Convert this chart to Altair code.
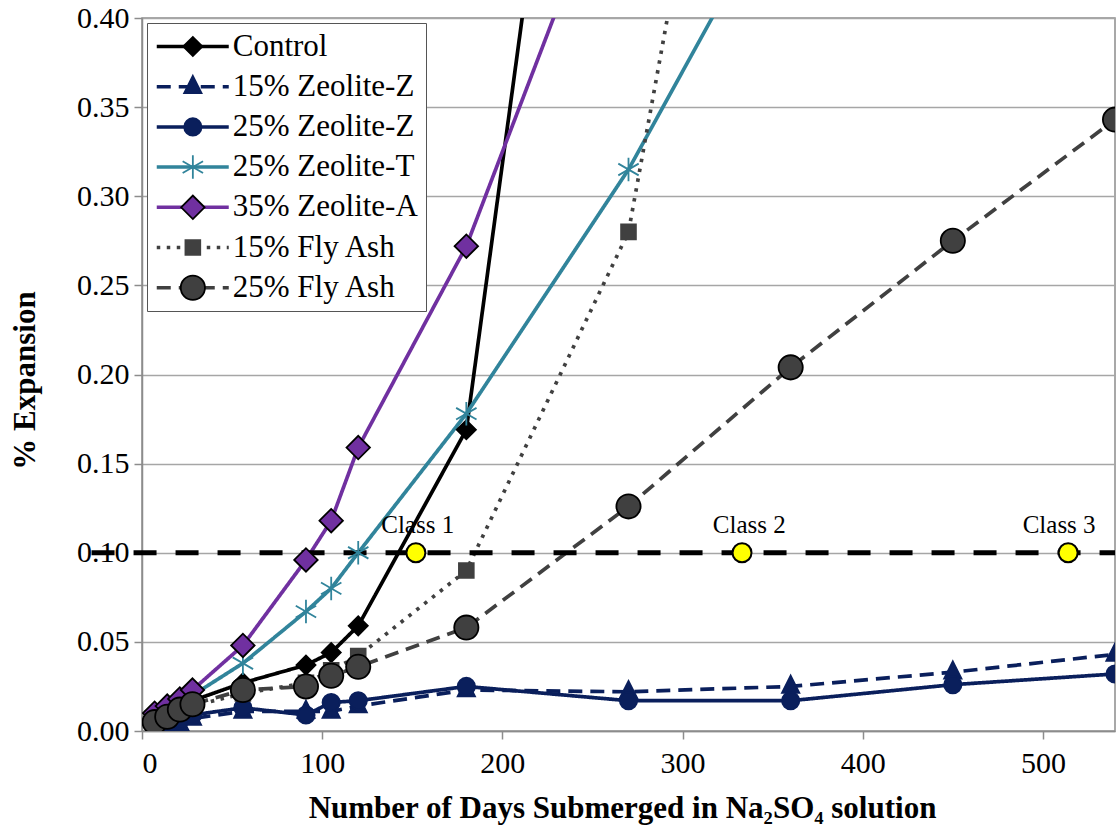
import altair as alt
import pandas as pd

# ---------------- data ----------------
series_order = ["Control", "15% Zeolite-Z", "25% Zeolite-Z", "25% Zeolite-T",
                "35% Zeolite-A", "15% Fly Ash", "25% Fly Ash"]

control_days = [7, 14, 21, 28, 56, 91, 105, 120, 180, 270]
control_vals = [0.006, 0.009, 0.013, 0.017, 0.027, 0.037, 0.044, 0.059, 0.169, 0.84]

z15_days = [7, 14, 21, 28, 56, 91, 105, 120, 180, 270, 360, 450, 540]
z15_vals = [0.000, 0.002, 0.004, 0.007, 0.011, 0.011, 0.011, 0.014, 0.023, 0.022, 0.025, 0.033, 0.043]

z25_days = [7, 14, 21, 28, 56, 91, 105, 120, 180, 270, 360, 450, 540]
z25_vals = [0.001, 0.004, 0.006, 0.009, 0.013, 0.009, 0.016, 0.017, 0.025, 0.017, 0.017, 0.026, 0.032]

t25_days = [7, 14, 21, 28, 56, 91, 105, 120, 180, 270, 360]
t25_vals = [0.008, 0.012, 0.016, 0.020, 0.038, 0.067, 0.080, 0.100, 0.178, 0.315, 0.48]

a35_days = [7, 14, 21, 28, 56, 91, 105, 120, 180, 270]
a35_vals = [0.010, 0.014, 0.018, 0.023, 0.048, 0.096, 0.118, 0.159, 0.272, 0.51]

fa15_days = [7, 14, 21, 28, 56, 91, 105, 120, 180, 270, 360]
fa15_vals = [0.005, 0.008, 0.011, 0.014, 0.021, 0.027, 0.034, 0.042, 0.090, 0.280, 0.78]

fa25_days = [7, 14, 21, 28, 56, 91, 105, 120, 180, 270, 360, 450, 540]
fa25_vals = [0.005, 0.008, 0.012, 0.015, 0.023, 0.025, 0.031, 0.036, 0.058, 0.126, 0.204, 0.275, 0.343]

class_days = [152, 333, 514]
class_vals = [0.10, 0.10, 0.10]
class_labels = ["Class 1", "Class 2", "Class 3"]
class_label_days = [153, 337, 509]

limit_days = [-28, 540]
limit_val = 0.10

x_ticks = [0, 100, 200, 300, 400, 500]
y_ticks = [0.0, 0.05, 0.10, 0.15, 0.20, 0.25, 0.30, 0.35, 0.40]

# ---------------- styles ----------------
NAVY = "#0A1F5C"
TEAL = "#31849B"
PURPLE = "#7030A0"
GRAY = "#404040"
line_colors = ["#000000", NAVY, NAVY, TEAL, PURPLE, GRAY, GRAY]
dashes = [[1, 0], [14, 8], [1, 0], [1, 0], [1, 0], [3.5, 6.5], [14, 8]]
fill_colors = ["#000000", NAVY, NAVY, TEAL, PURPLE, GRAY, GRAY]
stroke_colors = ["#000000", NAVY, NAVY, TEAL, "#000000", GRAY, "#000000"]
shapes = [
    "M-0.75,0L0,-0.75L0.75,0L0,0.75Z",
    "M0,-0.85L0.68,0.5L-0.68,0.5Z",
    "M-0.68,0A0.68,0.68 0 1,0 0.68,0A0.68,0.68 0 1,0 -0.68,0Z",
    "M0,-0.92L0,0.92M-0.8,-0.46L0.8,0.46M-0.8,0.46L0.8,-0.46",
    "M-0.92,0L0,-0.92L0.92,0L0,0.92Z",
    "M-0.58,-0.58L0.58,-0.58L0.58,0.58L-0.58,0.58Z",
    "M-0.95,0A0.95,0.95 0 1,0 0.95,0A0.95,0.95 0 1,0 -0.95,0Z",
]
MARK_SIZE = 650

FONT = "Liberation Serif"

all_days = [control_days, z15_days, z25_days, t25_days, a35_days, fa15_days, fa25_days]
all_vals = [control_vals, z15_vals, z25_vals, t25_vals, a35_vals, fa15_vals, fa25_vals]
rows = []
for name, ds, vs in zip(series_order, all_days, all_vals):
    for d, v in zip(ds, vs):
        rows.append({"series": name, "mk": "m_" + name, "day": d, "value": v})
df = pd.DataFrame(rows)
mk_order = ["m_" + s for s in series_order]

df_class = pd.DataFrame({"day": class_days, "value": class_vals, "label": class_labels,
                         "lday": class_label_days})
df_limit = pd.DataFrame({"d0": [limit_days[0]], "d1": [limit_days[1]], "value": [limit_val]})

x_scale = alt.Scale(domain=[0, 540], nice=False, zero=False)
y_scale = alt.Scale(domain=[0, 0.40], nice=False)

x_axis = alt.Axis(values=x_ticks, grid=False, tickSize=8, tickColor="#8C8C8C", domainColor="#8C8C8C",
                  domainWidth=1.5, tickWidth=1.5,
                  labelFont=FONT, labelFontSize=30, labelColor="#000000", labelPadding=9,
                  title="Number of Days Submerged in Na\u2082SO\u2084 solution",
                  titleFont=FONT, titleFontSize=31, titleFontWeight="bold", titleColor="#000000",
                  titleX=480, titleY=77, titleBaseline="middle", titleAlign="center")
y_axis = alt.Axis(values=y_ticks, format=".2f", grid=True, gridColor="#A6A6A6", gridWidth=1.5,
                  tickSize=8, tickColor="#8C8C8C", domainColor="#8C8C8C", domainWidth=1.5, tickWidth=1.5,
                  labelFont=FONT, labelFontSize=30, labelColor="#000000", labelPadding=5,
                  title="% Expansion", titleFont=FONT, titleFontSize=31, titleFontWeight="bold",
                  titleColor="#000000", titleAngle=270, titleX=-117, titleY=362,
                  titleBaseline="middle", titleAlign="center")

legA = alt.Legend(title=None, orient="top-left", offset=5, symbolType="M-3,0H3", symbolSize=576,
                  symbolStrokeWidth=3.5, symbolOffset=22.25, labelFont=FONT, labelFontSize=31,
                  labelColor="#000000", labelLimit=500, labelOffset=24.5, padding=8, rowPadding=8.2,
                  fillColor="#FFFFFF", strokeColor="#555555", zindex=1)
legB = alt.Legend(title=None, orient="none", legendX=5, legendY=5, symbolSize=MARK_SIZE,
                  symbolStrokeWidth=1.8, symbolOpacity=1, symbolOffset=22.35, labelFont=FONT,
                  labelFontSize=31, labelLimit=500, labelExpr="''", labelOffset=24.5, padding=8,
                  rowPadding=8.2, zindex=2)

lines = alt.Chart(df).mark_line(strokeWidth=3.7, clip=True).encode(
    x=alt.X("day:Q", scale=x_scale, axis=x_axis),
    y=alt.Y("value:Q", scale=y_scale, axis=y_axis),
    color=alt.Color("series:N", scale=alt.Scale(domain=series_order, range=line_colors), legend=legA),
    strokeDash=alt.StrokeDash("series:N", scale=alt.Scale(domain=series_order, range=dashes), legend=legA),
)

limit = alt.Chart(df_limit).mark_rule(color="#000000", strokeWidth=5, strokeDash=[23, 19], clip=False).encode(
    x=alt.X("d0:Q", scale=x_scale),
    x2="d1:Q",
    y=alt.Y("value:Q", scale=y_scale),
)

points = alt.Chart(df).mark_point(filled=True, opacity=1, size=MARK_SIZE, strokeWidth=1.8, clip=True).encode(
    x=alt.X("day:Q", scale=x_scale),
    y=alt.Y("value:Q", scale=y_scale),
    fill=alt.Fill("mk:N", scale=alt.Scale(domain=mk_order, range=fill_colors), legend=legB),
    stroke=alt.Stroke("mk:N", scale=alt.Scale(domain=mk_order, range=stroke_colors), legend=legB),
    shape=alt.Shape("mk:N", scale=alt.Scale(domain=mk_order, range=shapes), legend=legB),
)

class_pts = alt.Chart(df_class).mark_point(filled=True, opacity=1, fill="#FFFF00", stroke="#000000",
                                           strokeWidth=2, shape="circle", size=360).encode(
    x=alt.X("day:Q", scale=x_scale),
    y=alt.Y("value:Q", scale=y_scale),
)
class_txt = alt.Chart(df_class).mark_text(font=FONT, fontSize=25, color="#000000", dy=-28).encode(
    x=alt.X("lday:Q", scale=x_scale),
    y=alt.Y("value:Q", scale=y_scale),
    text="label:N",
)

chart = alt.layer(lines, limit, points, class_pts, class_txt).properties(
    width=973, height=713,
    autosize=alt.AutoSizeParams(type="none"),
    padding={"left": 142, "top": 18, "right": 2, "bottom": 105},
    background="#FFFFFF",
).configure(font=FONT).configure_view(stroke="#8C8C8C", strokeWidth=1.5)

chart.save("out.html", embed_options={"renderer": "svg", "actions": False})
